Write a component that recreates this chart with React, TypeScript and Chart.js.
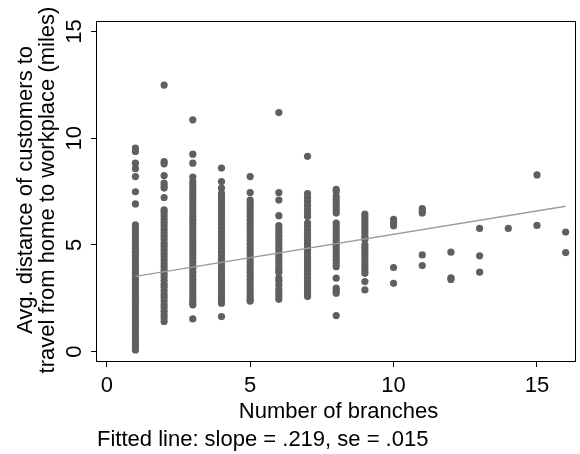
import React, { useEffect, useRef } from "react";
import { Chart, registerables } from "chart.js";

Chart.register(...registerables);

// Number of branches (x) and avg. distance values (y) read per column
const distB1 = [9.54, 9.38, 8.83, 8.57, 8.2, 7.49, 6.92, 5.94, 5.8, 5.63, 5.47, 5.31, 5.16, 4.98, 4.83, 4.66, 4.5, 4.35, 4.19, 4.02, 3.86, 3.71, 3.55, 3.38, 3.22, 3.07, 2.91, 2.74, 2.58, 2.43, 2.27, 2.1, 1.94, 1.79, 1.63, 1.46, 1.3, 1.15, 0.99, 0.82, 0.66, 0.51, 0.35, 0.2, 0.08];
const distB2 = [12.49, 8.9, 8.8, 8.25, 7.9, 7.77, 7.66, 7.22, 6.64, 6.52, 6.37, 6.2, 6.04, 5.89, 5.72, 5.56, 5.41, 5.25, 5.08, 4.93, 4.77, 4.6, 4.45, 4.29, 4.12, 3.97, 3.81, 3.64, 3.49, 3.33, 3.16, 3.01, 2.85, 2.68, 2.53, 2.37, 2.2, 2.05, 1.89, 1.72, 1.58, 1.41];
const distB3 = [10.86, 9.25, 8.83, 8.18, 7.95, 7.8, 7.64, 7.47, 7.31, 7.15, 6.98, 6.82, 6.66, 6.49, 6.33, 6.17, 6.0, 5.84, 5.68, 5.51, 5.35, 5.19, 5.02, 4.86, 4.7, 4.53, 4.37, 4.21, 4.04, 3.88, 3.72, 3.55, 3.39, 3.23, 3.06, 2.9, 2.74, 2.57, 2.41, 2.28, 2.19, 1.53];
const distB4 = [8.6, 7.97, 7.66, 7.42, 7.27, 7.11, 6.94, 6.78, 6.62, 6.45, 6.29, 6.13, 5.96, 5.8, 5.64, 5.47, 5.31, 5.15, 4.98, 4.82, 4.66, 4.49, 4.33, 4.17, 4.0, 3.84, 3.68, 3.51, 3.35, 3.19, 3.02, 2.86, 2.7, 2.53, 2.38, 2.27, 1.64];
const distB5 = [8.2, 7.45, 7.1, 6.95, 6.8, 6.65, 6.48, 6.33, 6.17, 6.01, 5.84, 5.68, 5.52, 5.35, 5.19, 5.03, 4.86, 4.7, 4.54, 4.37, 4.21, 4.05, 3.88, 3.72, 3.56, 3.39, 3.23, 3.07, 2.9, 2.74, 2.58, 2.45, 2.37];
const distB6 = [11.2, 7.45, 7.1, 6.37, 5.9, 5.75, 5.59, 5.43, 5.27, 5.11, 4.95, 4.79, 4.63, 4.47, 4.31, 4.15, 3.99, 3.83, 3.72, 3.45, 3.3, 3.12, 2.92, 2.77, 2.61, 2.45];
const distB7 = [9.15, 7.4, 7.22, 7.03, 6.84, 6.65, 6.48, 6.33, 6.02, 5.87, 5.71, 5.55, 5.39, 5.23, 5.07, 4.91, 4.75, 4.59, 4.43, 4.27, 4.11, 3.95, 3.79, 3.63, 3.47, 3.31, 3.15, 2.99, 2.84, 2.7, 2.58];
const distB8 = [7.6, 7.5, 7.27, 7.11, 6.95, 6.8, 6.64, 6.49, 6.02, 5.86, 5.7, 5.55, 5.39, 5.23, 5.07, 4.92, 4.76, 4.6, 4.44, 4.28, 4.13, 3.98, 3.44, 2.97, 2.85, 2.74, 1.69];
const distB9 = [6.44, 6.29, 6.14, 6.0, 5.86, 5.7, 5.55, 5.39, 5.27, 5.0, 4.85, 4.7, 4.55, 4.4, 4.24, 4.09, 3.94, 3.8, 3.67, 3.28, 2.89];
const distB10 = [6.2, 6.05, 5.9, 3.94, 3.2];
const distB11 = [6.7, 6.6, 6.5, 4.53, 4.03];
const distB12 = [4.66, 3.45, 3.38];
const distB13 = [5.77, 4.49, 3.72];
const distB14 = [5.77];
const distB15 = [8.28, 5.91];
const distB16 = [5.6, 4.64];

const branchCounts = [1, 2, 3, 4, 5, 6, 7, 8, 9, 10, 11, 12, 13, 14, 15, 16];
const distColumns = [distB1, distB2, distB3, distB4, distB5, distB6, distB7, distB8, distB9, distB10, distB11, distB12, distB13, distB14, distB15, distB16];

// Fitted line endpoints
const fitX = [1, 16];
const fitY = [3.52, 6.81];

const xTicks = [0, 5, 10, 15];
const yTicks = [0, 5, 10, 15];

const xTitle = "Number of branches";
const yTitle = ["Avg. distance of customers to", "travel from home to workplace (miles)"];
const note = "Fitted line: slope = .219, se = .015";

const FONT = '22px "Liberation Sans", Arial, Helvetica, sans-serif';

const textPlugin = {
  id: "stataText",
  afterDraw(chart: any) {
    const { ctx, chartArea: a, scales } = chart;
    const xs = scales.x;
    const ys = scales.y;
    ctx.save();
    // plot frame
    ctx.strokeStyle = "#000";
    ctx.lineWidth = 1;
    ctx.strokeRect(a.left - 0.5, a.top + 0.5, a.right - a.left, a.bottom - a.top);

    ctx.font = FONT;
    ctx.fillStyle = "#000";
    ctx.textBaseline = "alphabetic";

    // x tick labels
    ctx.textAlign = "center";
    for (const t of xs.ticks) {
      ctx.fillText(String(t.value), xs.getPixelForValue(t.value), a.bottom + 30.5);
    }
    // x title
    ctx.fillText(xTitle, (a.left + a.right) / 2 + 2, a.bottom + 57);

    // y tick labels (rotated)
    for (const t of ys.ticks) {
      ctx.save();
      ctx.translate(a.left - 16, ys.getPixelForValue(t.value));
      ctx.rotate(-Math.PI / 2);
      ctx.fillText(String(t.value), 0, 0);
      ctx.restore();
    }
    // y title (two lines, rotated)
    const cy = (a.top + a.bottom) / 2 - 1;
    const baseXs = [32, 54];
    yTitle.forEach((line, i) => {
      ctx.save();
      ctx.translate(baseXs[i], cy);
      ctx.rotate(-Math.PI / 2);
      ctx.fillText(line, 0, 0);
      ctx.restore();
    });

    // note
    ctx.textAlign = "left";
    ctx.fillText(note, a.left, a.bottom + 84.5);
    ctx.restore();
  },
};

export default function App() {
  const ref = useRef<HTMLCanvasElement | null>(null);
  useEffect(() => {
    if (!ref.current) return;
    const points: { x: number; y: number }[] = [];
    branchCounts.forEach((b, i) => {
      distColumns[i].forEach((v) => points.push({ x: b, y: v }));
    });
    const fitData = fitX.map((x, i) => ({ x, y: fitY[i] }));
    const chart = new Chart(ref.current, {
      type: "scatter",
      data: {
        datasets: [
          {
            type: "line",
            data: fitData,
            borderColor: "#9c9c9c",
            borderWidth: 1.3,
            pointRadius: 0,
            fill: false,
            order: 1,
          } as any,
          {
            type: "scatter",
            data: points,
            backgroundColor: "#5f5f5f",
            borderWidth: 0,
            pointRadius: 3.6,
            order: 2,
          },
        ],
      },
      options: {
        animation: false,
        responsive: false,
        devicePixelRatio: 1,
        layout: { padding: { left: 0, top: 21, right: 3, bottom: 0 } },
        plugins: { legend: { display: false }, tooltip: { enabled: false } },
        scales: {
          x: {
            type: "linear",
            min: -0.34,
            max: 16.36,
            afterBuildTicks: (s: any) => {
              s.ticks = xTicks.map((v) => ({ value: v }));
            },
            afterFit: (s: any) => {
              s.height = 93;
            },
            ticks: { display: false },
            grid: { display: true, drawOnChartArea: false, drawTicks: true, tickLength: 6, tickColor: "#000", color: "#000" },
            border: { display: false },
          },
          y: {
            type: "linear",
            min: -0.44,
            max: 15.49,
            afterBuildTicks: (s: any) => {
              s.ticks = yTicks.map((v) => ({ value: v }));
            },
            afterFit: (s: any) => {
              s.width = 97;
            },
            ticks: { display: false },
            grid: { display: true, drawOnChartArea: false, drawTicks: true, tickLength: 6, tickColor: "#000", color: "#000" },
            border: { display: false },
          },
        },
      },
      plugins: [textPlugin],
    });
    return () => chart.destroy();
  }, []);
  return (
    <div style={{ position: "absolute", left: 0, top: 0, width: 580, height: 454, background: "#fff" }}>
      <canvas ref={ref} width={580} height={454} style={{ display: "block", width: 580, height: 454 }} />
    </div>
  );
}
